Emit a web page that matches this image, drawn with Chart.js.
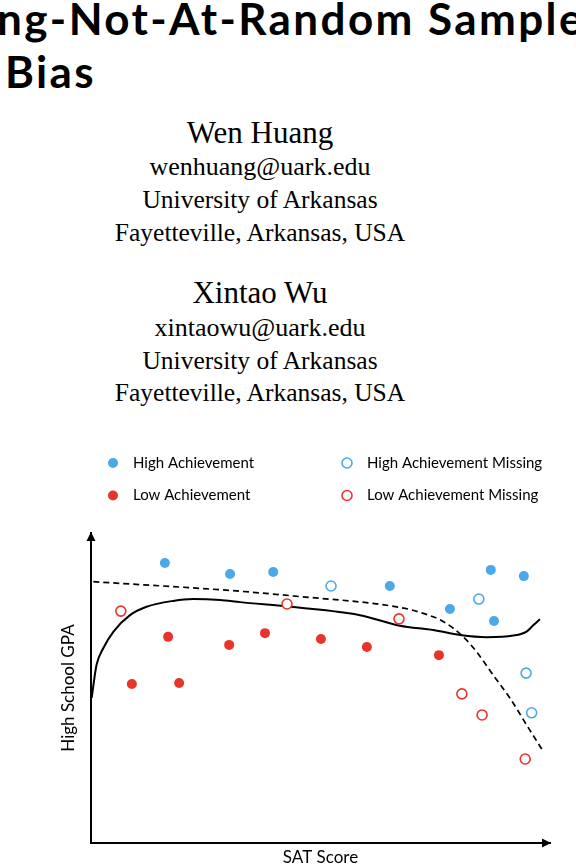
<!DOCTYPE html>
<html>
<head>
<meta charset="utf-8">
<script src="https://cdn.jsdelivr.net/npm/chart.js@4.4.1/dist/chart.umd.min.js"></script>
<style>
  html, body { margin: 0; padding: 0; background: #fff; }
  body { width: 576px; height: 868px; position: relative; overflow: hidden; }
  .title { position: absolute; font-family: Lato, sans-serif; font-weight: 700; font-size: 44px; letter-spacing: 2.4px; line-height: 1; white-space: nowrap; color: #000; }
  .line { position: absolute; left: 0; width: 520px; text-align: center; font-family: "Liberation Serif", serif; line-height: 1; color: #000; white-space: nowrap; }
  .name { font-size: 31px; }
  .info { font-size: 25.5px; }
  .mail { font-size: 26px; }
</style>
</head>
<body>
<div class="title" style="left:-3px; top:-4px;">ng-Not-At-Random Sample</div>
<div class="title" style="left:5px; top:49px;">Bias</div>

<div class="line name" style="top:117px;">Wen Huang</div>
<div class="line mail" style="top:154px;">wenhuang@uark.edu</div>
<div class="line info" style="top:186.5px;">University of Arkansas</div>
<div class="line info" style="top:220px;">Fayetteville, Arkansas, USA</div>

<div class="line name" style="top:277px;">Xintao Wu</div>
<div class="line mail" style="top:315px;">xintaowu@uark.edu</div>
<div class="line info" style="top:348px;">University of Arkansas</div>
<div class="line info" style="top:380px;">Fayetteville, Arkansas, USA</div>

<div id="wrap" style="position:absolute; left:0; top:430px; width:576px; height:438px;"><canvas id="chart"></canvas></div>

<script>
// points, x = SAT score, y = GPA (both on a 0-100 scale)
const highAch = [[16.1, 90.3], [30.3, 86.8], [39.7, 87.4], [65.1, 82.9], [78.2, 75.5], [87.1, 88.1], [94.3, 86.1], [87.8, 71.6]]
const highMissing = [[52.3, 82.9], [84.5, 78.7], [94.8, 54.8], [96.0, 42.0]]
const lowAch = [[8.9, 51.3], [16.8, 66.5], [19.2, 51.6], [30.1, 63.9], [37.9, 67.7], [50.1, 65.8], [60.1, 63.2], [75.8, 60.6]]
const lowMissing = [[6.5, 74.8], [42.7, 77.1], [67.1, 72.3], [80.8, 48.1], [85.2, 41.3], [94.6, 27.1]]

// the two fitted curves
const solidCurve = [[0.15, 46.8], [1.2, 57.4], [2.7, 62.9], [4.9, 68.2], [8.5, 73.5], [12.1, 76.2], [17.9, 78.1], [22.3, 78.7],
  [28.1, 78.4], [32.5, 77.7], [44.0, 76.1], [58.6, 73.5], [67.3, 70.1], [74.6, 68.7], [80.4, 67.1], [86.2, 66.4],
  [92.0, 66.9], [94.9, 68.2], [96.4, 70.3], [97.8, 72.2]]
const dashCurve = [[0.5, 84.3], [31.7, 81.3], [44.0, 79.7], [67.3, 76.0], [71.7, 74.4], [76.8, 71.4], [81.1, 66.5],
  [84.0, 61.7], [87.6, 54.2], [91.3, 46.7], [94.9, 38.1], [98.2, 30.3]]

const BLUE = '#4ba9e9'
const RED = '#e8352b'

const toPts = pairs => pairs.map(([x, y]) => ({ x, y }))

// axis arrowheads
const arrows = {
  id: 'arrows',
  afterDraw(chart) {
    const { ctx, chartArea: { left, right, top, bottom } } = chart
    ctx.save()
    ctx.fillStyle = '#000'
    ctx.beginPath()
    ctx.moveTo(right + 1, bottom)
    ctx.lineTo(right - 8, bottom - 4.5)
    ctx.lineTo(right - 8, bottom + 4.5)
    ctx.closePath()
    ctx.fill()
    ctx.beginPath()
    ctx.moveTo(left, top - 1)
    ctx.lineTo(left - 4.5, top + 8)
    ctx.lineTo(left + 4.5, top + 8)
    ctx.closePath()
    ctx.fill()
    ctx.restore()
  }
}

// 2 x 2 legend above the plot
const legendGrid = {
  id: 'legendGrid',
  afterDraw(chart) {
    const { ctx, chartArea } = chart
    const cols = [chartArea.left + 22, chartArea.left + 256]
    const rows = [33, 65.5]
    ctx.save()
    ctx.font = '15px Lato'
    ctx.textBaseline = 'middle'
    chart.data.datasets.filter(ds => !ds.showLine).forEach((ds, i) => {
      const cx = cols[Math.floor(i / 2)]
      const cy = rows[i % 2]
      ctx.beginPath()
      ctx.arc(cx, cy, ds.pointRadius, 0, Math.PI * 2)
      ctx.fillStyle = ds.backgroundColor
      ctx.fill()
      if (ds.pointBorderWidth) {
        ctx.lineWidth = ds.pointBorderWidth
        ctx.strokeStyle = ds.borderColor
        ctx.stroke()
      }
      ctx.fillStyle = '#000'
      ctx.fillText(ds.label, cx + 20, cy)
    })
    ctx.restore()
  }
}

const chart = document.querySelector('#chart').getContext('2d')

new Chart(chart, {
  type: 'scatter',
  data: {
    datasets: [
      { label: 'High Achievement', data: toPts(highAch), backgroundColor: BLUE, borderColor: BLUE, pointRadius: 5, pointBorderWidth: 0 },
      { label: 'Low Achievement', data: toPts(lowAch), backgroundColor: RED, borderColor: RED, pointRadius: 5, pointBorderWidth: 0 },
      { label: 'High Achievement Missing', data: toPts(highMissing), backgroundColor: '#fff', borderColor: BLUE, pointRadius: 5, pointBorderWidth: 1.6 },
      { label: 'Low Achievement Missing', data: toPts(lowMissing), backgroundColor: '#fff', borderColor: RED, pointRadius: 5, pointBorderWidth: 1.6 },
      { label: 'fit', data: toPts(solidCurve), showLine: true, borderColor: '#000', borderWidth: 2, pointRadius: 0, cubicInterpolationMode: 'monotone' },
      { label: 'fit missing', data: toPts(dashCurve), showLine: true, borderColor: '#000', borderWidth: 1.7, borderDash: [6, 4], pointRadius: 0, cubicInterpolationMode: 'monotone' }
    ]
  },
  options: {
    responsive: true,
    maintainAspectRatio: false,
    animation: false,
    layout: { padding: { left: 58, right: 26, top: 103, bottom: 0 } },
    plugins: { legend: { display: false }, tooltip: { enabled: false } },
    scales: {
      x: {
        min: 0, max: 100,
        grid: { display: false, drawTicks: false },
        ticks: { display: false },
        border: { display: true, color: '#000', width: 2 },
        title: { display: true, text: 'SAT Score', color: '#000', font: { family: 'Lato', size: 17 }, padding: { top: 4.6, bottom: 0 } }
      },
      y: {
        min: 0, max: 100,
        grid: { display: false, drawTicks: false },
        ticks: { display: false },
        border: { display: true, color: '#000', width: 2 },
        title: { display: true, text: 'High School GPA', color: '#000', font: { family: 'Lato', size: 17 }, padding: { top: 0, bottom: 12.6 } }
      }
    }
  },
  plugins: [arrows, legendGrid]
})
</script>
</body>
</html>
